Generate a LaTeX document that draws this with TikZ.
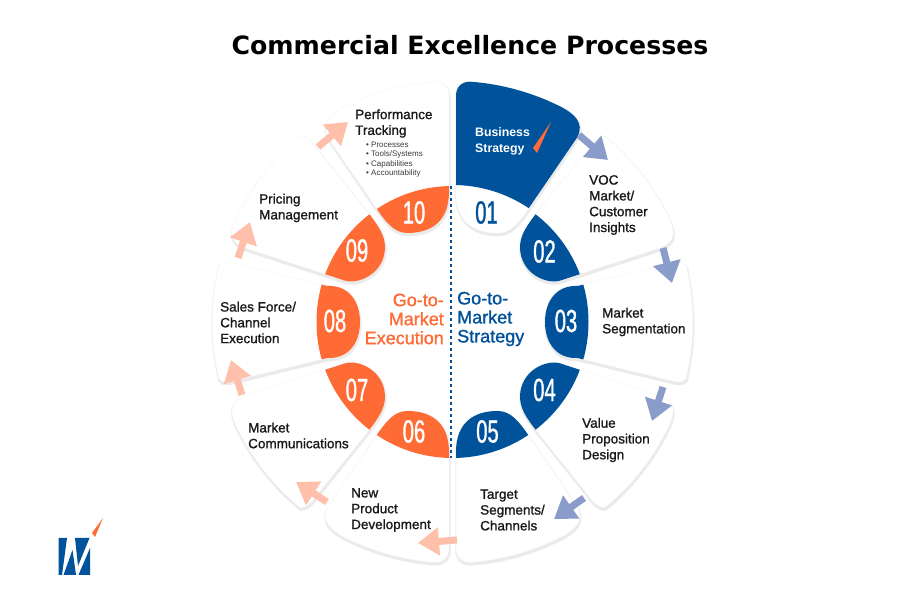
\documentclass[tikz,border=0pt]{standalone}
\usepackage{fontspec}
\usetikzlibrary{arrows.meta,positioning}
\setmainfont{Liberation Sans}
\newfontfamily\titlefont{DejaVu Sans}
\newfontfamily\lblfont[FakeBold=1.2]{Liberation Sans}
\newfontfamily\strongfont{Liberation Sans Bold}
\newfontfamily\numfont[FakeStretch=0.63,FakeBold=1]{Liberation Sans}
\definecolor{wblue}{HTML}{00529B}
\definecolor{worange}{HTML}{FF6B35}
\definecolor{paleblue}{HTML}{8A9CC9}
\definecolor{palepeach}{HTML}{FFC0AB}
\definecolor{segshadow}{HTML}{EAEAEA}
\definecolor{inktext}{HTML}{1A1A1A}

% the three segment outlines of one quadrant, centre of the wheel at the origin
\newcommand{\patha}{(3.5,130) -- (3.5,226) .. controls (3.5,235) and (9,240.5) .. (18,240.3)
  arc (85.7:63:241) .. controls (122,208) and (132,199) .. (125,185) -- (75,112)
  .. controls (66,99) and (58,89) .. (45,89) .. controls (22,89) and (3.5,100) .. (3.5,130) -- cycle}
\newcommand{\pathb}{(82.5,107) -- (137,175) .. controls (141,181) and (146,186) .. (152.6,185.5)
  arc (50.5:27:240) .. controls (222,93) and (226,81) .. (207.5,74) -- (108,41.5)
  .. controls (95,37) and (67.5,48) .. (67.5,75) .. controls (67.5,87) and (75,97) .. (82.5,107) -- cycle}
\newcommand{\pathc}{(92.5,0) .. controls (92.5,22) and (105,37) .. (125,36) -- (220,59)
  .. controls (228,61) and (235,60) .. (234.5,52) arc (12.5:-12.5:240)
  .. controls (235,-60) and (228,-61) .. (220,-59) -- (125,-36)
  .. controls (105,-37) and (92.5,-22) .. (92.5,0) -- cycle}

% outline, x and y mirror, colour of the lobe
\newcommand{\drawseg}[4]{%
  \fill[segshadow!55,draw=segshadow!55,line width=3pt,shift={(0.5,-2)},xscale=#2,yscale=#3] #1;
  \fill[segshadow,draw=segshadow,line width=1pt,shift={(0.5,-2.5)},xscale=#2,yscale=#3] #1;
  \fill[white,draw=segshadow!45,line width=.5pt,xscale=#2,yscale=#3] #1;
  \begin{scope}[xscale=#2,yscale=#3]
    \clip #1;
    \fill[#4] (0,0) circle (136);
  \end{scope}
}

\tikzset{
  lbl/.style = {font=\lblfont\fontsize{13.5}{15.8}\selectfont, text=inktext, align=left, anchor=west, inner sep=0},
  num/.style = {font=\numfont\fontsize{32}{32}\selectfont, text=white, inner sep=0},
  gtm/.style = {font=\lblfont\fontsize{18}{19}\selectfont, inner sep=0},
  flowb/.style = {paleblue, line width=7pt, -{Triangle[length=21pt,width=27pt]}},
  flowo/.style = {palepeach, line width=7pt, -{Triangle[length=21pt,width=27pt]}},
  flame/.style = {fill=worange, draw=none}
}

\begin{document}
\begin{tikzpicture}[x=1pt,y=1pt]
\useasboundingbox (0,0) rectangle (900,600);
\fill[white] (0,0) rectangle (900,600);

\node[font=\titlefont\bfseries\fontsize{25.2}{25.2}\selectfont, inner sep=0] (title) at (470,555) {Commercial Excellence Processes};

\begin{scope}[shift={(452.5,278)}]
\drawseg{\patha}{1}{1}{white}
\drawseg{\pathb}{1}{1}{wblue}
\drawseg{\pathc}{1}{1}{wblue}
\drawseg{\pathb}{1}{-1}{wblue}
\drawseg{\patha}{1}{-1}{wblue}
\drawseg{\patha}{-1}{-1}{worange}
\drawseg{\pathb}{-1}{-1}{worange}
\drawseg{\pathc}{-1}{1}{worange}
\drawseg{\pathb}{-1}{1}{worange}
\drawseg{\patha}{-1}{1}{worange}
% segment 01 is coloured the other way round
\begin{scope}
  \clip \patha;
  \fill[wblue,even odd rule] (0,0) circle (137) (-10,0) rectangle (260,260);
\end{scope}
\end{scope}

% numbers
\node[num,text=wblue] (n01) at (486.5,387.5) {01};
\node[num] (n02) at (544.5,348.5) {02};
\node[num] (n03) at (566,279) {03};
\node[num] (n04) at (544.5,210) {04};
\node[num] (n05) at (487.5,168.5) {05};
\node[num] (n06) at (414,168.5) {06};
\node[num] (n07) at (357,210) {07};
\node[num] (n08) at (335,279) {08};
\node[num] (n09) at (357,349.5) {09};
\node[num] (n10) at (414,387.5) {10};

% labels
\node[lbl,font=\strongfont\fontsize{12.3}{15.8}\selectfont,text=white] (strategy) at (475,459) {Business\\Strategy};
\node[lbl] (voc) at (589,395) {VOC\\Market/\\Customer\\Insights};
\node[lbl] (segm) at (602,278) {Market\\Segmentation};
\node[lbl] (value) at (582,160) {Value\\Proposition\\Design};
\node[lbl] (target) at (480,90) {Target\\Segments/\\Channels};
\node[lbl] (product) at (351,90) {New\\Product\\Development};
\node[lbl] (comms) at (248,164.5) {Market\\Communications};
\node[lbl] (sales) at (220,277.5) {Sales Force/\\Channel\\Execution};
\node[lbl] (pricing) at (259,392) {Pricing\\Management};
\node[lbl] (perf) at (355,476.5) {Performance\\Tracking};
\node[font=\fontsize{8}{9.4}\selectfont, text=inktext!85, align=left, anchor=north west, inner sep=0] (perfsub) at (366,458.5)
  {• Processes\\• Tools/Systems\\• Capabilities\\• Accountability};

\node[gtm,text=worange,align=right,anchor=east] (gtmexec) at (444,281) {Go-to-\\Market\\Execution};
\node[gtm,text=wblue,align=left,anchor=west] (gtmstrat) at (457,281) {Go-to-\\Market\\Strategy};

% divider
\coordinate (divtop) at (451,414);
\coordinate (divbot) at (451,142);
\draw[wblue,line width=1.8pt,dash pattern=on 2.6pt off 3.4pt] (divtop) -- (divbot);

% arrows between the segments
\coordinate (a1) at (579,465);  \coordinate (b1) at (608,440);
\coordinate (a2) at (663,352);  \coordinate (b2) at (672,317);
\coordinate (a3) at (663,213);  \coordinate (b3) at (652,179);
\coordinate (a4) at (584,102);  \coordinate (b4) at (554,81);
\coordinate (a5) at (457,60);   \coordinate (b5) at (418,57);
\coordinate (a6) at (327,98);   \coordinate (b6) at (296,118);
\coordinate (a7) at (242,205);  \coordinate (b7) at (231,240);
\coordinate (a8) at (238,342);  \coordinate (b8) at (250,378);
\coordinate (a9) at (318,453);  \coordinate (b9) at (348,478);
\draw[flowb] (a1) -- (b1);
\draw[flowb] (a2) -- (b2);
\draw[flowb] (a3) -- (b3);
\draw[flowb] (a4) -- (b4);
\draw[flowo] (a5) -- (b5);
\draw[flowo] (a6) -- (b6);
\draw[flowo] (a7) -- (b7);
\draw[flowo] (a8) -- (b8);
\draw[flowo] (a9) -- (b9);

\fill[flame] (551,478) -- (533,452) -- (537,447) -- cycle;

% logo
\fill[wblue] (58.5,62) -- (67,62) -- (62,25) -- (58.5,25) -- cycle;
\fill[wblue] (63.5,25) -- (76,25) -- (72.5,50) -- cycle;
\fill[wblue] (75,62) -- (89.5,62) -- (78,34) -- cycle;
\fill[wblue] (78.5,25) -- (90,25) -- (90,52) -- cycle;
\fill[flame] (103,82) -- (92,67) -- (95,63) -- cycle;
\end{tikzpicture}
\end{document}
